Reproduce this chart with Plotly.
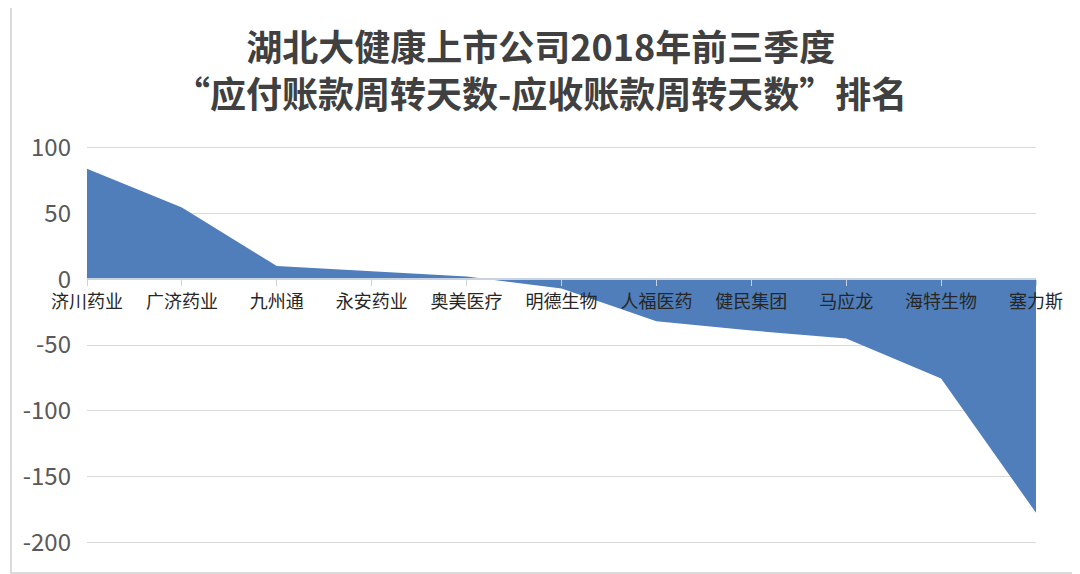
import plotly.graph_objects as go

# 湖北大健康上市公司 应付账款周转天数 - 应收账款周转天数
companies = ['济川药业', '广济药业', '九州通', '永安药业', '奥美医疗', '明德生物',
             '人福医药', '健民集团', '马应龙', '海特生物', '塞力斯']
diff_days = [84, 54.5, 10, 6, 2, -7, -32, -39, -45, -75.5, -177.5]

y_ticks = [100, 50, 0, -50, -100, -150, -200]
y_range = [-202, 102]

title_text = ('湖北大健康上市公司2018年前三季度<br>'
              '“应付账款周转天数-应收账款周转天数”排名')

# page is shown with an 8px body margin, so size the figure for what is visible
W, H = 1072, 566
ML, MR, MT, MB = 79, 44, 137, 29
pw, ph = W - ML - MR, H - MT - MB

fig = go.Figure()
fig.add_trace(go.Scatter(
    x=companies, y=diff_days, mode='lines', fill='tozeroy',
    line=dict(width=0, color='#4F7EBB'), fillcolor='#4F7EBB',
    hoverinfo='x+y'
))

fig.update_layout(
    width=W, height=H,
    margin=dict(l=ML, r=MR, t=MT, b=MB),
    paper_bgcolor='white', plot_bgcolor='white',
    showlegend=False,
    font=dict(family='Noto Sans CJK SC, sans-serif'),
    xaxis=dict(
        range=[0, len(companies) - 1], anchor='free',
        position=(0 - y_range[0]) / (y_range[1] - y_range[0]),
        showgrid=False, showline=True, linecolor='#C9D3E0', linewidth=1.5,
        ticks='outside', ticklen=6, tickcolor='#C9D3E0',
        tickfont=dict(size=18, color='#262626'),
        zeroline=False, fixedrange=True
    ),
    yaxis=dict(
        range=y_range, tickvals=y_ticks, ticktext=[str(v) for v in y_ticks],
        showgrid=True, gridcolor='#D9D9D9', gridwidth=1,
        zeroline=False, showline=False, ticks='', ticklabelstandoff=15,
        tickfont=dict(size=24, color='#595959'), fixedrange=True
    ),
    annotations=[dict(
        text='<b>' + title_text + '</b>', xref='paper', yref='paper',
        x=(532 - ML) / pw, y=1 + (MT - 60) / ph,
        xanchor='center', yanchor='middle', showarrow=False,
        font=dict(size=36, color='#404040', family='Noto Sans CJK SC, sans-serif')
    )],
    shapes=[dict(type='rect', xref='paper', yref='paper',
                 x0=-(ML - 3) / pw, x1=1 + (MR - 3) / pw,
                 y0=-(MB - 1) / ph, y1=1 + (MT + 20) / ph,
                 line=dict(color='#D0D0D0', width=1.5), fillcolor='rgba(0,0,0,0)',
                 layer='below')]
)

fig.write_html('out.html')
